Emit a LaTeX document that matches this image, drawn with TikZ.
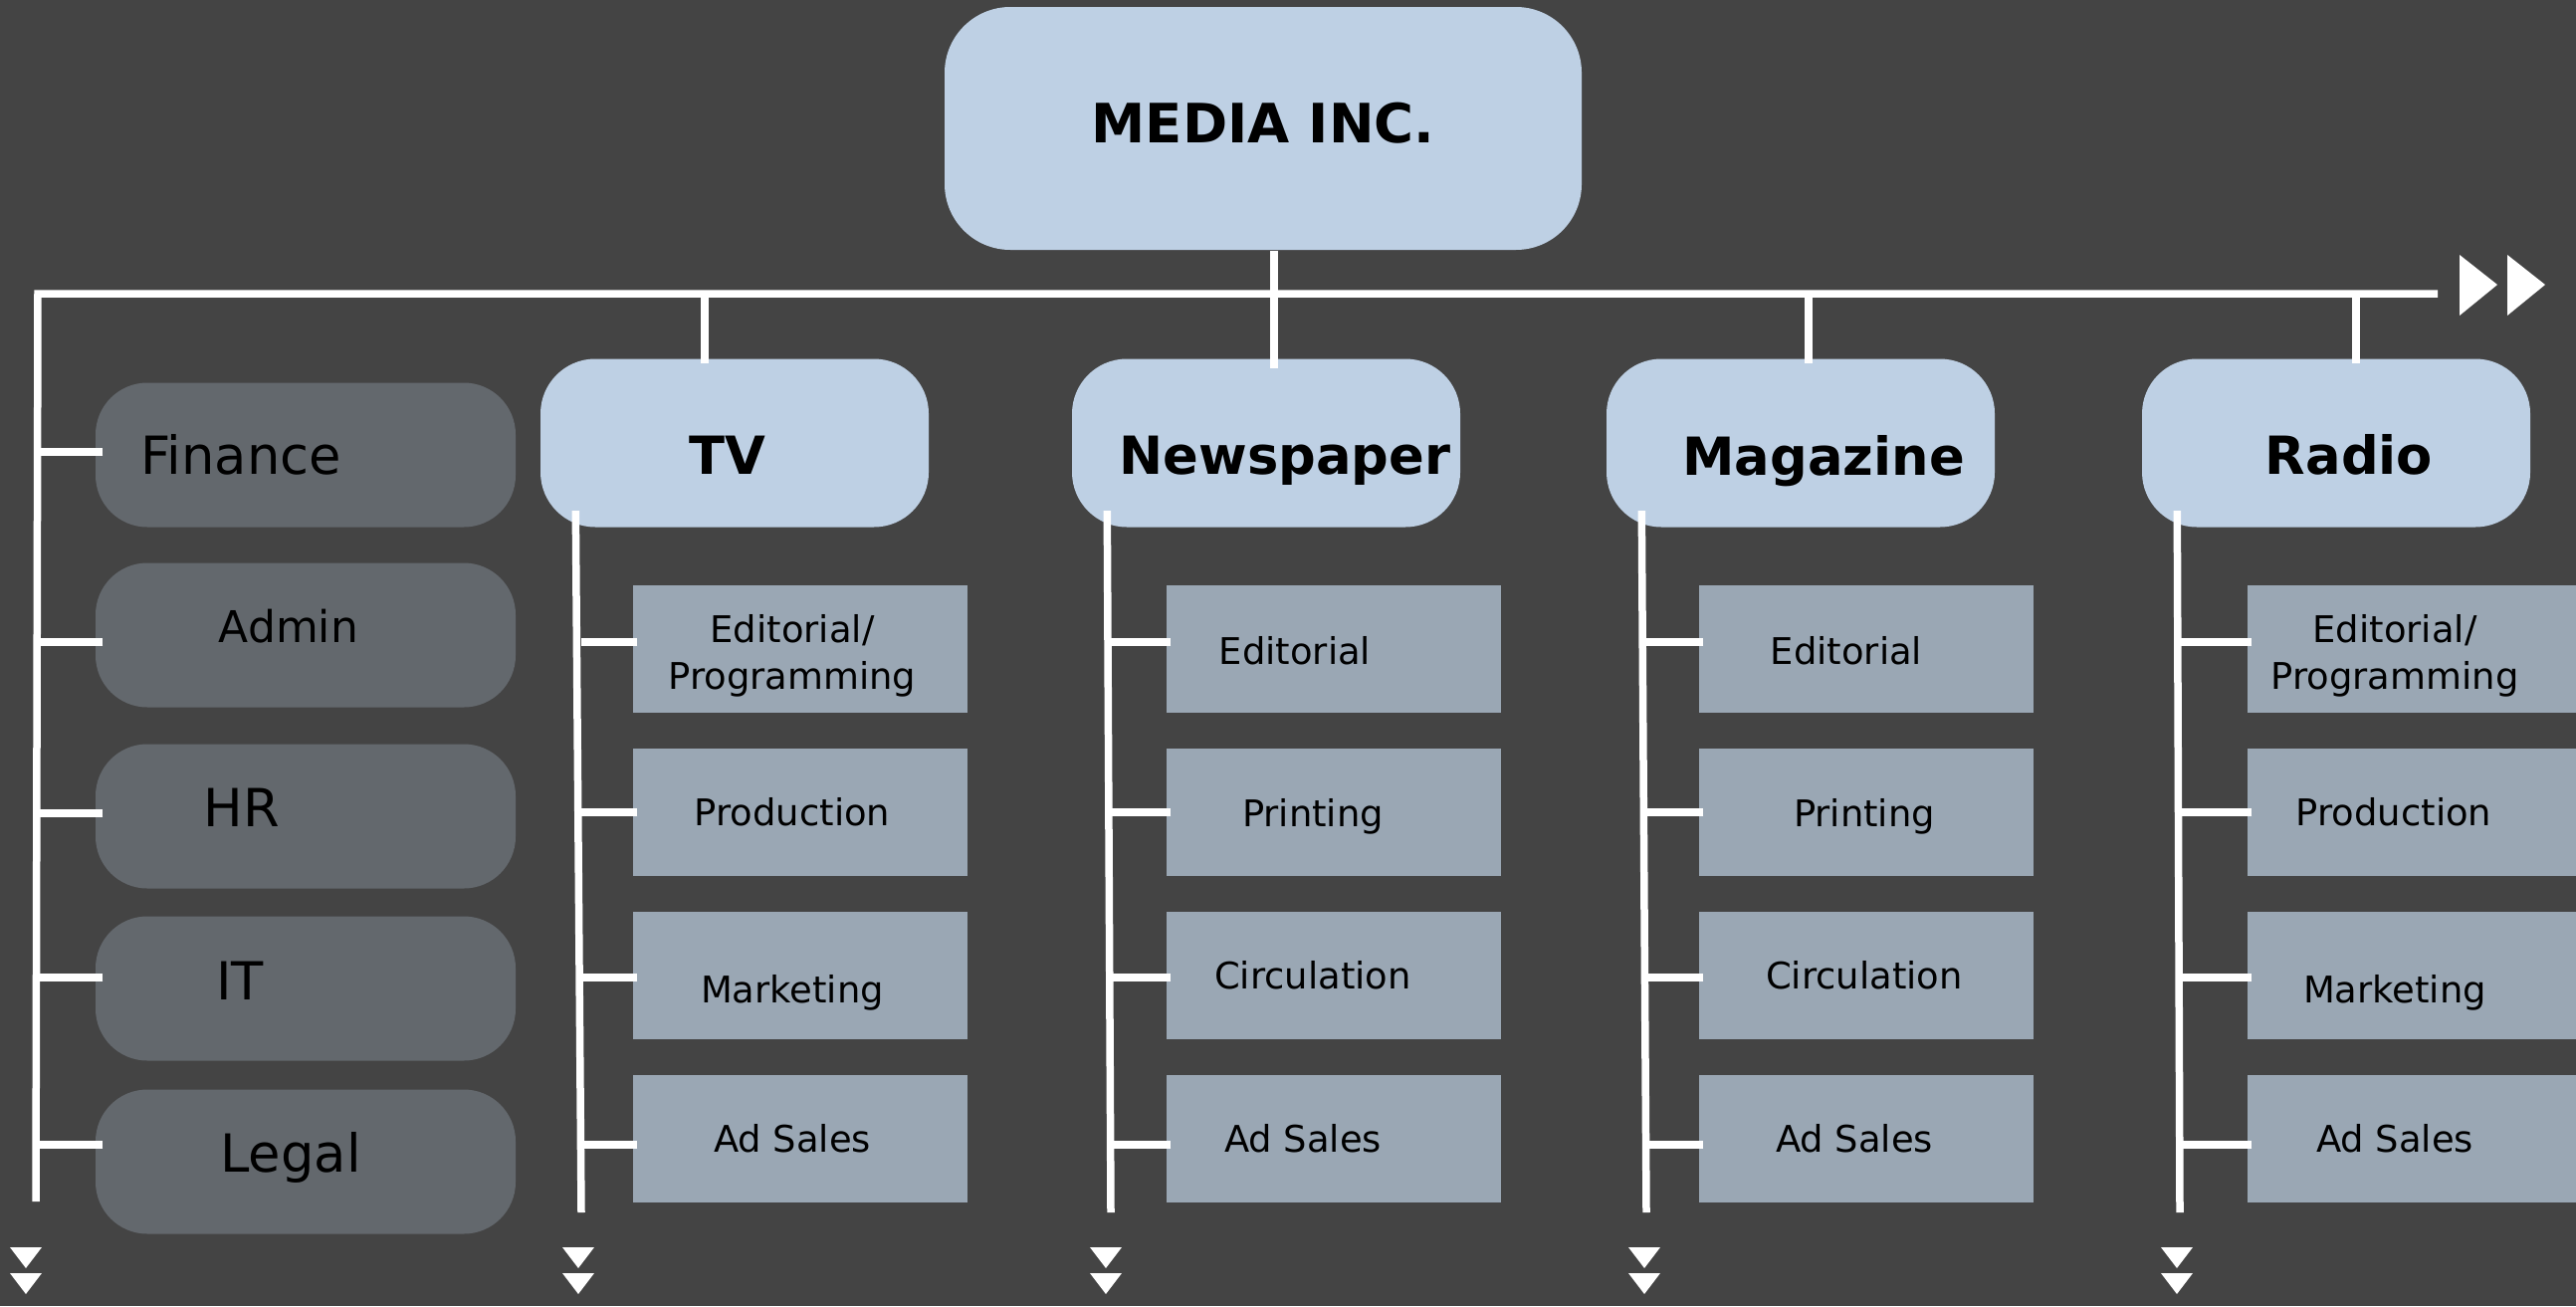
\documentclass[tikz,border=0pt]{standalone}
\usepackage{fontspec}
\setmainfont{DejaVu Sans}

\definecolor{bgdark}{HTML}{444444}
\definecolor{headblue}{HTML}{BED0E4}
\definecolor{staffgrey}{HTML}{63686D}
\definecolor{deptblue}{HTML}{9AA7B4}

\tikzset{
  wire/.style={draw=white,line width=0.75mm},
  topbox/.style={fill=headblue,rounded corners=6.6mm,minimum width=64mm,minimum height=24.4mm},
  headbox/.style={fill=headblue,rounded corners=5.5mm,minimum width=39mm,minimum height=16.9mm},
  staffbox/.style={fill=staffgrey,rounded corners=5.2mm,minimum width=42.2mm,minimum height=14.5mm},
  deptbox/.style={fill=deptblue,minimum width=33.6mm,minimum height=12.8mm},
  toptxt/.style={font=\fontsize{15.5}{18}\selectfont\bfseries},
  headtxt/.style={font=\fontsize{15}{18}\selectfont\bfseries},
  stafftxt/.style={font=\fontsize{15}{18}\selectfont},
  depttxt/.style={font=\fontsize{10.5}{13.2}\selectfont,align=center}
}

\begin{document}
\begin{tikzpicture}[x=0.1mm,y=-0.1mm]
\fill[bgdark] (0,0) rectangle (2588,1312);
\clip (0,0) rectangle (2588,1312);

\node[topbox,label={[toptxt,yshift=0.5mm]center:MEDIA INC.}] (media) at (1269,129) {};

\node[headbox,label={[headtxt,xshift=-0.7mm,yshift=-1.2mm]center:TV}] (tv) at (738,445) {};
\node[headbox,label={[headtxt,xshift=1.9mm,yshift=-1.8mm]center:Newspaper}] (news) at (1272,445) {};
\node[headbox,label={[headtxt,xshift=2.3mm,yshift=-1.8mm]center:Magazine}] (mag) at (1809,445) {};
\node[headbox,label={[headtxt,xshift=1.3mm,yshift=-1.2mm]center:Radio}] (radio) at (2347,445) {};

% staff units on the left
\node[staffbox,label={[stafftxt,xshift=-6.5mm]center:Finance}] (fin) at (307,457) {};
\node[staffbox,label={[stafftxt,font=\fontsize{12.5}{15}\selectfont,xshift=-1.7mm,yshift=0.9mm]center:Admin}] (adm) at (307,638) {};
\node[staffbox,label={[stafftxt,xshift=-6.4mm,yshift=0.9mm]center:HR}] (hr) at (307,820) {};
\node[staffbox,label={[stafftxt,xshift=-6.6mm,yshift=0.8mm]center:IT}] (it) at (307,993) {};
\node[staffbox,label={[stafftxt,xshift=-1.5mm,yshift=0.4mm]center:Legal}] (legal) at (307,1167) {};

% departments
\node[deptbox,label={[depttxt,xshift=-0.8mm,yshift=-0.7mm]center:Editorial/\\Programming}] (tv1) at (804,652) {};
\node[deptbox,label={[depttxt,xshift=-0.8mm]center:Production}] (tv2) at (804,816) {};
\node[deptbox,label={[depttxt,xshift=-0.8mm,yshift=-1.7mm]center:Marketing}] (tv3) at (804,980) {};
\node[deptbox,label={[depttxt,xshift=-0.8mm]center:Ad Sales}] (tv4) at (804,1144) {};

\node[deptbox,label={[depttxt,xshift=-3.9mm,yshift=-0.2mm]center:Editorial}] (news1) at (1340,652) {};
\node[deptbox,label={[depttxt,xshift=-2.1mm,yshift=-0.4mm]center:Printing}] (news2) at (1340,816) {};
\node[deptbox,label={[depttxt,xshift=-2.1mm]center:Circulation}] (news3) at (1340,980) {};
\node[deptbox,label={[depttxt,xshift=-3.1mm]center:Ad Sales}] (news4) at (1340,1144) {};

\node[deptbox,label={[depttxt,xshift=-2mm,yshift=-0.2mm]center:Editorial}] (mag1) at (1875,652) {};
\node[deptbox,label={[depttxt,xshift=-0.2mm,yshift=-0.4mm]center:Printing}] (mag2) at (1875,816) {};
\node[deptbox,label={[depttxt,xshift=-0.2mm]center:Circulation}] (mag3) at (1875,980) {};
\node[deptbox,label={[depttxt,xshift=-1.2mm]center:Ad Sales}] (mag4) at (1875,1144) {};

\node[deptbox,label={[depttxt,xshift=-2mm,yshift=-0.7mm]center:Editorial/\\Programming}] (radio1) at (2426,652) {};
\node[deptbox,label={[depttxt,xshift=-2.1mm]center:Production}] (radio2) at (2426,816) {};
\node[deptbox,label={[depttxt,xshift=-2mm,yshift=-1.7mm]center:Marketing}] (radio3) at (2426,980) {};
\node[deptbox,label={[depttxt,xshift=-2mm]center:Ad Sales}] (radio4) at (2426,1144) {};

\coordinate (bar) at (38,295);
\coordinate (barend) at (2449,295);
\coordinate (staffend) at (36,1207);
\coordinate (tvend) at (584,1218);
\coordinate (newsend) at (1116,1218);
\coordinate (magend) at (1654,1218);
\coordinate (radioend) at (2190,1218);

\draw[wire] (staffend) -- (bar) -- (barend);
\draw[wire] ([xshift=1.1mm]media.south) -- ([xshift=0.8mm,yshift=-1mm]news.north);
\draw[wire] ([xshift=-3mm]tv.north |- bar) -- ([xshift=-3mm,yshift=-0.5mm]tv.north);
\draw[wire] ([xshift=0.8mm]mag.north |- bar) -- ([xshift=0.8mm,yshift=-0.5mm]mag.north);
\draw[wire] ([xshift=2mm]radio.north |- bar) -- ([xshift=2mm,yshift=-0.5mm]radio.north);

\foreach \col in {tv,news,mag,radio}
  \draw[wire] ([xshift=3.6mm,yshift=1.7mm]\col.south west) -- (\col end);

\foreach \col in {tv,news,mag,radio}
  \foreach \i/\dy in {1/0.7,2/0,3/-0.2,4/-0.6}
    \draw[wire] ([xshift=0.5mm,yshift=\dy mm]\col\i.west) -- ([yshift=\dy mm]\col\i.west -| \col end);

\foreach \s/\dy in {fin/0.3,adm/-0.7,hr/0.3,it/1.1,legal/1.7}
  \draw[wire] ([xshift=0.8mm,yshift=\dy mm]\s.west) -- ([yshift=\dy mm]\s.west -| staffend);

% arrowheads
\fill[white] (2471,256) -- (2509,286) -- (2471,317) -- cycle;
\fill[white] (2519,256) -- (2557,286) -- (2519,317) -- cycle;
\foreach \x in {26,581,1111,1652,2187} {
  \fill[white] (\x-16,1253) -- (\x+16,1253) -- (\x,1274) -- cycle;
  \fill[white] (\x-16,1279) -- (\x+16,1279) -- (\x,1300) -- cycle;
}
\end{tikzpicture}
\end{document}
